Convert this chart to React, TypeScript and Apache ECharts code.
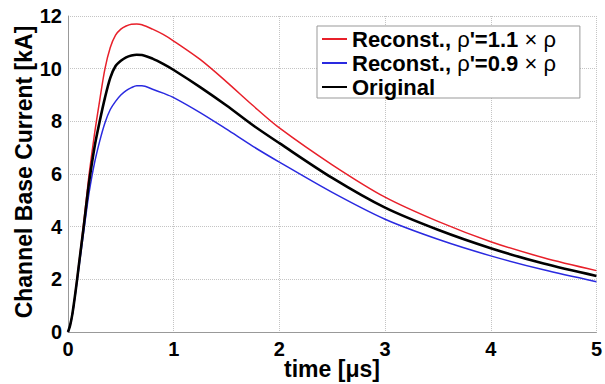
import React, { useEffect, useRef } from "react";
import * as echarts from "echarts";

const timeUs = [0, 0.02, 0.04, 0.06, 0.08, 0.1, 0.125, 0.15, 0.175, 0.2, 0.25, 0.3, 0.35, 0.4, 0.45, 0.5, 0.55, 0.6, 0.65, 0.7, 0.8, 0.9, 1.0, 1.25, 1.5, 1.75, 2, 2.5, 3, 3.5, 4, 4.5, 5];
const redHigh = [0, 0.25, 0.65, 1.2, 1.85, 2.5, 3.35, 4.2, 5.1, 6.0, 7.5, 8.8, 10.0, 10.8, 11.27, 11.5, 11.62, 11.69, 11.7, 11.67, 11.5, 11.3, 11.05, 10.35, 9.5, 8.6, 7.75, 6.35, 5.12, 4.2, 3.43, 2.82, 2.33];
const blueLow = [0, 0.25, 0.62, 1.15, 1.75, 2.35, 3.1, 3.85, 4.6, 5.3, 6.4, 7.25, 7.95, 8.45, 8.76, 9.0, 9.17, 9.28, 9.35, 9.35, 9.22, 9.07, 8.9, 8.33, 7.7, 7.05, 6.45, 5.3, 4.28, 3.52, 2.89, 2.36, 1.91];
const original = [0, 0.25, 0.65, 1.2, 1.8, 2.45, 3.25, 4.05, 4.9, 5.7, 7.0, 8.0, 8.9, 9.65, 10.1, 10.3, 10.43, 10.5, 10.53, 10.52, 10.38, 10.18, 9.95, 9.3, 8.6, 7.85, 7.17, 5.85, 4.72, 3.88, 3.18, 2.6, 2.13];

const seriesNames = ["Reconst., ρ'=1.1 × ρ", "Reconst., ρ'=0.9 × ρ", "Original"];
const richLabels: Record<string, string> = {
  [seriesNames[0]]: "{b|Reconst., }{n|ρ}{b|'=1.1 }{n|× ρ}",
  [seriesNames[1]]: "{b|Reconst., }{n|ρ}{b|'=0.9 }{n|× ρ}",
  [seriesNames[2]]: "{b|Original}",
};
const xAxisTitle = "time [μs]";
const yAxisTitle = "Channel Base Current [kA]";

const pairs = (ys: number[]) => timeUs.map((t, i) => [t, ys[i]]);

export default function App() {
  const ref = useRef<HTMLDivElement>(null);
  useEffect(() => {
    if (!ref.current) return;
    const chart = echarts.init(ref.current, null, { renderer: "svg" });
    const font = "'Liberation Sans', Arial, sans-serif";
    const lineCommon = { type: "line", smooth: 0.3, showSymbol: false, symbol: "none" };
    chart.setOption({
      animation: false,
      backgroundColor: "#ffffff",
      textStyle: { fontFamily: font },
      grid: { left: 68, right: 8, top: 16, bottom: 52, containLabel: false },
      legend: {
        left: 317,
        top: 26,
        orient: "vertical",
        backgroundColor: "#ffffff",
        borderColor: "#999999",
        borderWidth: 1,
        borderRadius: 0,
        padding: [2, 24, 0, 5],
        itemGap: 2,
        itemWidth: 25,
        itemHeight: 2,
        icon: "rect",
        data: seriesNames,
        formatter: (name: string) => richLabels[name],
        textStyle: {
          fontFamily: font,
          rich: {
            b: { fontFamily: font, fontWeight: "bold", fontSize: 22, lineHeight: 26, color: "#000" },
            n: { fontFamily: font, fontWeight: "normal", fontSize: 22, lineHeight: 26, color: "#000" },
          },
        },
      },
      graphic: [
        {
          type: "text",
          x: 24,
          y: 172,
          rotation: Math.PI / 2,
          style: {
            text: yAxisTitle,
            font: `bold 23px ${font}`,
            fill: "#000",
            textAlign: "center",
            textVerticalAlign: "middle",
          },
        },
        {
          type: "text",
          x: 332,
          y: 369,
          style: {
            text: xAxisTitle,
            font: `bold 23px ${font}`,
            fill: "#000",
            textAlign: "center",
            textVerticalAlign: "middle",
          },
        },
      ],
      xAxis: {
        type: "value",
        min: 0,
        max: 5,
        interval: 1,
        axisLine: { show: true, lineStyle: { color: "#999", width: 1 } },
        axisTick: { show: false },
        axisLabel: { fontFamily: font, fontWeight: "bold", fontSize: 20, color: "#000", margin: 7 },
        splitLine: { show: true, lineStyle: { color: "#c4c4c4", type: "dotted", width: 1 } },
      },
      yAxis: {
        type: "value",
        min: 0,
        max: 12,
        interval: 2,
        axisLine: { show: true, lineStyle: { color: "#999", width: 1 } },
        axisTick: { show: false },
        axisLabel: { fontFamily: font, fontWeight: "bold", fontSize: 20, color: "#000", margin: 6 },
        splitLine: { show: true, lineStyle: { color: "#c4c4c4", type: "dotted", width: 1 } },
      },
      series: [
        {
          ...lineCommon,
          name: seriesNames[0],
          data: pairs(redHigh),
          itemStyle: { color: "#e8202a" },
          lineStyle: { color: "#e8202a", width: 1.5 },
        },
        {
          ...lineCommon,
          name: seriesNames[1],
          data: pairs(blueLow),
          itemStyle: { color: "#2a2ae0" },
          lineStyle: { color: "#2a2ae0", width: 1.5 },
        },
        {
          ...lineCommon,
          name: seriesNames[2],
          data: pairs(original),
          itemStyle: { color: "#000000" },
          lineStyle: { color: "#000000", width: 2.6 },
        },
      ],
    });
    return () => chart.dispose();
  }, []);
  return <div ref={ref} style={{ width: 605, height: 384, position: "absolute", left: 0, top: 0 }} />;
}
